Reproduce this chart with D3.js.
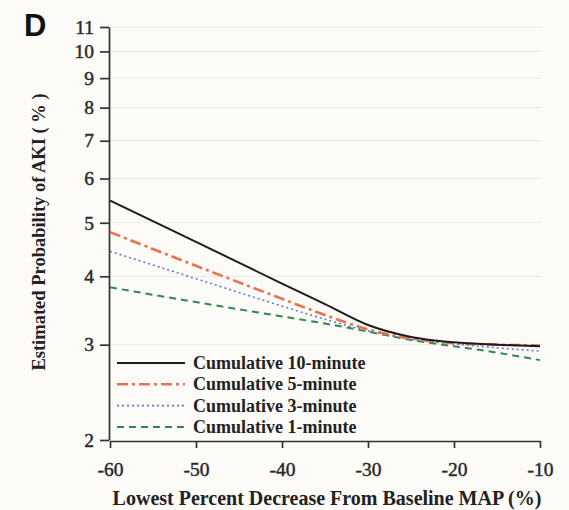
<!DOCTYPE html>
<html>
<head>
<meta charset="utf-8">
<script src="https://cdn.jsdelivr.net/npm/d3@7"></script>
<style>
  html, body { margin: 0; padding: 0; background: #fcfbf8; }
  svg { display: block; }
</style>
</head>
<body>
<svg id="chart" width="569" height="510"></svg>
<script>
// ---- data ----
const xValues = [-60, -50, -40, -35, -30, -25, -20, -15, -10];
const cum10 = [5.48, 4.62, 3.88, 3.56, 3.26, 3.10, 3.03, 3.00, 2.98];
const cum5  = [4.81, 4.18, 3.64, 3.40, 3.20, 3.08, 3.02, 3.00, 2.99];
const cum3  = [4.44, 3.96, 3.53, 3.34, 3.18, 3.07, 3.01, 2.96, 2.92];
const cum1  = [3.82, 3.59, 3.38, 3.28, 3.17, 3.06, 2.98, 2.90, 2.81];
const seriesNames = ["Cumulative 10-minute", "Cumulative 5-minute", "Cumulative 3-minute", "Cumulative 1-minute"];
const yTicks = [2, 3, 4, 5, 6, 7, 8, 9, 10, 11];
const xTicks = [-60, -50, -40, -30, -20, -10];
const panelLabel = "D";
const xTitle = "Lowest Percent Decrease From Baseline MAP (%)";
const yTitle = "Estimated Probability of AKI ( % )";

// ---- setup ----
const svg = d3.select("#chart");
const serif = "'Liberation Serif', 'Times New Roman', serif";
const logit = p => Math.log((p / 100) / (1 - p / 100));

const x = d3.scaleLinear().domain([-60, -10]).range([110, 540]);
const y = d3.scaleLinear().domain([logit(2), logit(11)]).range([440, 27]);

// gridlines
svg.append("g").selectAll("line")
  .data(yTicks.filter(t => t !== 2))
  .join("line")
  .attr("x1", 110).attr("x2", 541)
  .attr("y1", d => y(logit(d))).attr("y2", d => y(logit(d)))
  .attr("stroke", "#ecebe6").attr("stroke-width", 1.2);

// axes
const yAxis = d3.axisLeft(y)
  .tickValues(yTicks.map(logit))
  .tickFormat((d, i) => yTicks[i])
  .tickSize(9).tickSizeOuter(0).tickPadding(6);
const gy = svg.append("g").attr("transform", "translate(109,0)").call(yAxis);

const xAxis = d3.axisBottom(x).tickValues(xTicks).tickFormat(d => d)
  .tickSize(7).tickSizeOuter(0).tickPadding(14);
const gx = svg.append("g").attr("transform", "translate(0,441)").call(xAxis);

[gx, gy].forEach(g => {
  g.attr("font-family", serif);
  g.selectAll("path.domain").attr("stroke", "#333").attr("stroke-width", 1.7);
  g.selectAll(".tick line").attr("stroke", "#333").attr("stroke-width", 1.7);
  g.selectAll(".tick text").attr("font-family", serif).attr("font-size", 19.5)
    .attr("fill", "#2a2a2a").attr("stroke", "#2a2a2a").attr("stroke-width", 0.45);
});

// lines
const allSeries = [cum10, cum5, cum3, cum1];
const styles = [
  { color: "#1c1c1c", width: 2.0, dash: null },
  { color: "#e8714f", width: 2.6, dash: "11,4,3,4" },
  { color: "#5a7ed0", width: 1.6, dash: "2,3" },
  { color: "#2f8a4c", width: 2.0, dash: "7,5" }
];
const line = d3.line()
  .x((d, i) => x(xValues[i]))
  .y(d => y(logit(d)))
  .curve(d3.curveMonotoneX);

// draw in reverse so the 10-minute curve is on top
allSeries.map((s, i) => i).reverse().forEach(i => {
  svg.append("path")
    .datum(allSeries[i])
    .attr("d", line)
    .attr("fill", "none")
    .attr("stroke", styles[i].color)
    .attr("stroke-width", styles[i].width)
    .attr("stroke-dasharray", styles[i].dash);
});

// legend
const leg = svg.append("g");
seriesNames.forEach((name, i) => {
  const ly = 363 + i * 21.3;
  leg.append("line")
    .attr("x1", 117).attr("x2", 185).attr("y1", ly).attr("y2", ly)
    .attr("stroke", styles[i].color).attr("stroke-width", styles[i].width)
    .attr("stroke-dasharray", styles[i].dash);
  leg.append("text")
    .attr("x", 193).attr("y", ly + 6)
    .attr("font-family", serif).attr("font-size", 18).attr("font-weight", "bold")
    .attr("fill", "#222")
    .text(name);
});

// titles
svg.append("text")
  .attr("x", 327).attr("y", 505)
  .attr("text-anchor", "middle")
  .attr("font-family", serif).attr("font-size", 20).attr("font-weight", "bold")
  .attr("fill", "#222")
  .text(xTitle);

svg.append("text")
  .attr("transform", "translate(45,232) rotate(-90)")
  .attr("text-anchor", "middle")
  .attr("font-family", serif).attr("font-size", 18.5).attr("font-weight", "bold")
  .attr("fill", "#222")
  .text(yTitle);

svg.append("text")
  .attr("x", 24).attr("y", 36)
  .attr("font-family", "'Liberation Sans', Arial, sans-serif")
  .attr("font-size", 31).attr("font-weight", "bold")
  .attr("fill", "#111")
  .text(panelLabel);
</script>
</body>
</html>
